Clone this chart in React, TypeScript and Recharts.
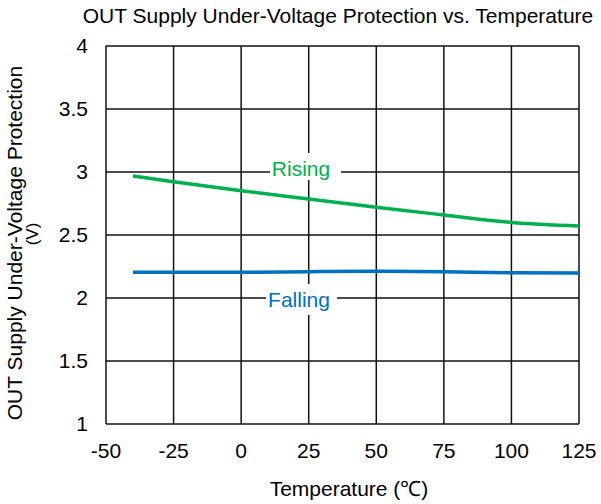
import { LineChart, Line, XAxis, YAxis, CartesianGrid } from 'recharts';

const temperatures = [-40, -25, 0, 25, 50, 75, 100, 125];
const rising = [2.968, 2.923, 2.852, 2.786, 2.72, 2.659, 2.6, 2.572];
const falling = [2.204, 2.204, 2.204, 2.209, 2.212, 2.208, 2.2, 2.198];

const xTicks = [-50, -25, 0, 25, 50, 75, 100, 125];
const yTicks = [1, 1.5, 2, 2.5, 3, 3.5, 4];

const FONT = '"Liberation Sans", Arial, sans-serif';
const GREEN = '#00b050';
const BLUE = '#0070c0';

const chartData = temperatures.map((t, i) => ({
  temp: t,
  rising: rising[i],
  falling: falling[i],
}));

export default function App() {
  return (
    <div style={{ position: 'absolute', left: 0, top: 0, background: '#fff' }}>
      <LineChart
        width={601}
        height={504}
        data={chartData}
        margin={{ top: 46, right: 22, bottom: 50, left: 46 }}
      >
        <CartesianGrid stroke="#111" strokeWidth={1.5} />
        <XAxis
          dataKey="temp"
          type="number"
          domain={[-50, 125]}
          ticks={xTicks}
          height={30}
          axisLine={false}
          tickLine={false}
          tickSize={0}
          tickMargin={19}
          tick={{ fill: '#000', fontSize: 21, fontFamily: FONT }}
          interval={0}
        />
        <YAxis
          type="number"
          domain={[1, 4]}
          ticks={yTicks}
          width={60}
          axisLine={false}
          tickLine={false}
          tickSize={0}
          tickMargin={18}
          tick={{ fill: '#000', fontSize: 21, fontFamily: FONT }}
          interval={0}
        />
        <Line
          dataKey="rising"
          type="monotone"
          stroke={GREEN}
          strokeWidth={3.5}
          dot={false}
          isAnimationActive={false}
        />
        <Line
          dataKey="falling"
          type="monotone"
          stroke={BLUE}
          strokeWidth={3.5}
          dot={false}
          isAnimationActive={false}
        />

        {/* series labels on white boxes */}
        <g>
          <rect x={270} y={153} width={71} height={27} fill="#fff" />
          <text x={301} y={176} textAnchor="middle" fill={GREEN} fontSize={21} fontFamily={FONT}>
            Rising
          </text>
          <rect x={266} y={284} width={71} height={31} fill="#fff" />
          <text x={299} y={307} textAnchor="middle" fill={BLUE} fontSize={21} fontFamily={FONT}>
            Falling
          </text>
        </g>

        <text x={338} y={23} textAnchor="middle" fill="#000" fontSize={21} fontFamily={FONT}>
          OUT Supply Under-Voltage Protection vs. Temperature
        </text>
        <text x={349} y={496} textAnchor="middle" fill="#000" fontSize={21} fontFamily={FONT}>
          Temperature (℃)
        </text>
        <text
          transform="translate(22, 243) rotate(-90)"
          textAnchor="middle"
          fill="#000"
          fontSize={21}
          fontFamily={FONT}
        >
          OUT Supply Under-Voltage Protection
        </text>
        <text
          transform="translate(38, 234) rotate(-90)"
          textAnchor="middle"
          fill="#000"
          fontSize={17}
          fontFamily={FONT}
        >
          (V)
        </text>
      </LineChart>
    </div>
  );
}
